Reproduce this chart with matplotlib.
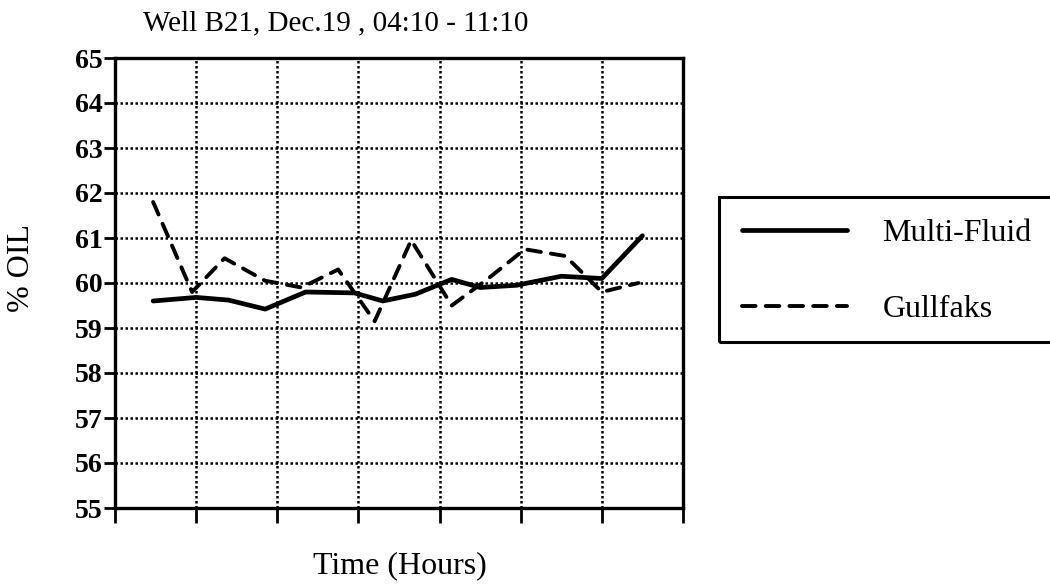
import numpy as np
import matplotlib.pyplot as plt
from matplotlib.patches import Rectangle

plt.rcParams['font.family'] = ['Liberation Serif', 'DejaVu Serif']

# hours after 04:10
mf_time = [0.47, 1.0, 1.4, 1.85, 2.35, 2.95, 3.3, 3.7, 4.15, 4.5, 4.95, 5.5, 6.0, 6.5]
mf_oil = [59.6, 59.68, 59.62, 59.42, 59.8, 59.78, 59.6, 59.75, 60.08, 59.9, 59.95, 60.15, 60.1, 61.05]

gf_time = [0.47, 0.95, 1.35, 1.85, 2.3, 2.75, 3.2, 3.65, 4.15, 4.6, 5.05, 5.55, 6.0, 6.45]
gf_oil = [61.8, 59.8, 60.55, 60.05, 59.9, 60.3, 59.15, 60.95, 59.5, 60.1, 60.75, 60.6, 59.8, 60.0]

y_ticks = list(range(55, 66))
x_ticks = list(range(0, 8))

fig = plt.figure(figsize=(10.5, 5.87), dpi=100)
ax = fig.add_axes([115/1050, 1-508/587, (683-115)/1050, (508-58)/587])

ax.plot(mf_time, mf_oil, color='black', lw=3.4, solid_capstyle='round',
        solid_joinstyle='round', label='Multi-Fluid')
ax.plot(gf_time, gf_oil, color='black', lw=2.8, dashes=(3.5, 2.6),
        dash_capstyle='round', label='Gullfaks')

ax.set_xlim(0, 7)
ax.set_ylim(55, 65)
ax.set_xticks(x_ticks)
ax.set_xticklabels([])
ax.set_yticks(y_ticks)
ax.set_yticklabels([str(v) for v in y_ticks], fontsize=20, fontweight='bold')
ax.tick_params(axis='y', direction='out', length=8, width=2, pad=1)
ax.tick_params(axis='x', direction='out', length=11, width=2)
ax.grid(True, color='black', lw=1.8, linestyle=(0, (1, 1)))
for s in ax.spines.values():
    s.set_linewidth(2.4)

fig.text(143/1050, 1-23/587, 'Well B21, Dec.19 , 04:10 - 11:10', fontsize=21,
         ha='left', va='center')
fig.text(400/1050, 1-566/587, 'Time (Hours)', fontsize=23, ha='center', va='center')
fig.text(22/1050, 1-268/587, '% OIL', fontsize=23, rotation=90, ha='center', va='center')

fig.legend(loc='upper left', bbox_to_anchor=(742/1050, 1-219/587), frameon=False,
           fontsize=23, handlelength=3.3, handletextpad=1.1, labelspacing=1.45,
           borderpad=0, borderaxespad=0)
fig.patches.append(Rectangle((719/1050, 1-342/587), 0.4, (342-197)/587,
                             transform=fig.transFigure, fill=False,
                             edgecolor='black', lw=2.2))

fig.savefig('out.png', dpi=100)
